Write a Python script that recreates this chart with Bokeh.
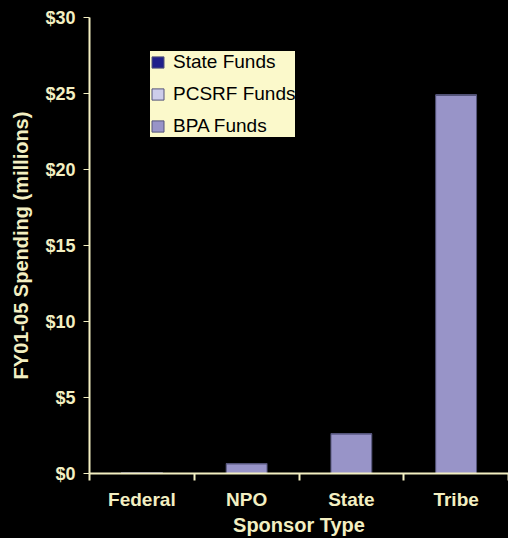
from bokeh.plotting import figure
from bokeh.models import Range1d, FixedTicker, NumeralTickFormatter, ColumnDataSource, Legend
from bokeh.embed import file_html
from bokeh.resources import INLINE

categories = ["Federal", "NPO", "State", "Tribe"]
bpa_funds = [0.05, 0.65, 2.62, 24.9]
pcsrf_funds = [0.0, 0.0, 0.0, 0.0]
state_funds = [0.0, 0.0, 0.0, 0.0]
y_ticks = [0, 5, 10, 15, 20, 25, 30]

series = ["bpa", "pcsrf", "state"]
labels = {"bpa": "BPA Funds", "pcsrf": "PCSRF Funds", "state": "State Funds"}
colors = ["#9894c8", "#cdcdea", "#20208a"]

xpos = [i + 0.5 for i in range(len(categories))]
src = ColumnDataSource(dict(x=xpos, bpa=bpa_funds, pcsrf=pcsrf_funds, state=state_funds))

CREAM = "#f3efc2"
FONT = "Liberation Sans"

p = figure(width=508, height=538, output_backend="svg", toolbar_location=None,
           x_range=Range1d(0, len(categories)), y_range=Range1d(0, 30),
           min_border_left=89, min_border_right=0, min_border_top=17, min_border_bottom=65)
p.background_fill_color = "black"
p.border_fill_color = "black"
p.outline_line_color = None
p.xgrid.visible = False
p.ygrid.visible = False

rs = p.vbar_stack(series, x="x", width=0.39, source=src, color=colors,
                  line_color="#55557a", line_width=1)

# axes
xa = p.xaxis[0]
xa.ticker = FixedTicker(ticks=xpos, minor_ticks=[float(i) for i in range(len(categories) + 1)])
xa.major_label_overrides = {x: c for x, c in zip(xpos, categories)}
xa.major_tick_out = 0
xa.major_tick_in = 0
xa.minor_tick_out = 7
xa.minor_tick_in = 0
xa.minor_tick_line_color = CREAM
xa.minor_tick_line_width = 2
xa.axis_line_color = CREAM
xa.axis_line_width = 2
xa.major_label_text_color = CREAM
xa.major_label_text_font = FONT
xa.major_label_text_font_style = "bold"
xa.major_label_text_font_size = "19px"
xa.major_label_standoff = 8
xa.axis_label = "Sponsor Type"
xa.axis_label_text_color = CREAM
xa.axis_label_text_font = FONT
xa.axis_label_text_font_style = "bold"
xa.axis_label_text_font_size = "20px"
xa.axis_label_standoff = 1

ya = p.yaxis[0]
ya.ticker = FixedTicker(ticks=y_ticks, minor_ticks=[])
ya.formatter = NumeralTickFormatter(format="$0")
ya.major_tick_out = 6
ya.major_tick_in = 0
ya.major_tick_line_color = CREAM
ya.major_tick_line_width = 1
ya.axis_line_color = CREAM
ya.axis_line_width = 2
ya.major_label_text_color = CREAM
ya.major_label_text_font = FONT
ya.major_label_text_font_style = "bold"
ya.major_label_text_font_size = "18px"
ya.major_label_standoff = 8
ya.axis_label = "FY01-05 Spending (millions)"
ya.axis_label_text_color = CREAM
ya.axis_label_text_font = FONT
ya.axis_label_text_font_style = "bold"
ya.axis_label_text_font_size = "20px"
ya.axis_label_standoff = 10

legend = Legend(items=[(labels["state"], [rs[2]]), (labels["pcsrf"], [rs[1]]), (labels["bpa"], [rs[0]])],
                location=(61, 336))
legend.background_fill_color = "#fbf9cb"
legend.background_fill_alpha = 1
legend.border_line_color = None
legend.label_text_font = FONT
legend.label_text_font_size = "19px"
legend.label_text_color = "black"
legend.glyph_width = 15
legend.glyph_height = 14
legend.label_height = 18
legend.spacing = 10
legend.padding = 7
legend.margin = 0
legend.label_standoff = 8
p.add_layout(legend, "center")

html = file_html(p, INLINE)
html = html.replace("</head>", "<style>body{background:#000;}</style></head>", 1)
open("out.html", "w").write(html)
